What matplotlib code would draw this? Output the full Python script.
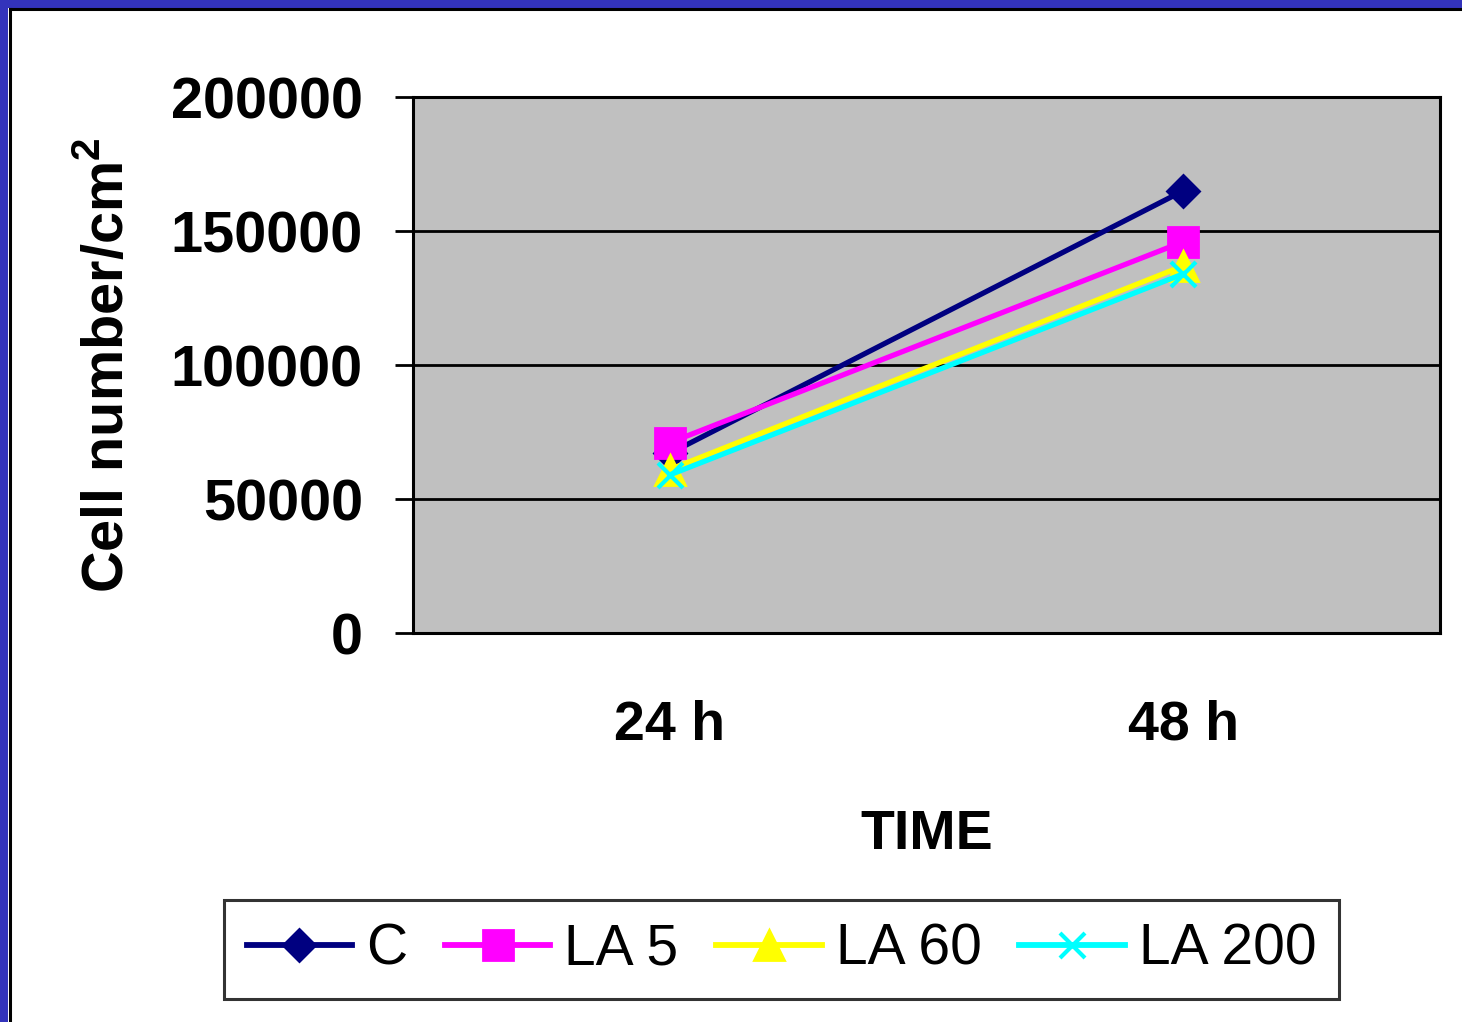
import matplotlib
matplotlib.use('Agg')
import matplotlib.pyplot as plt
from matplotlib.patches import Rectangle
from matplotlib.lines import Line2D

times = ['24 h', '48 h']
series_names = ['C', 'LA 5', 'LA 60', 'LA 200']
c_vals = [67000, 165000]
la5_vals = [71000, 146000]
la60_vals = [61000, 137000]
la200_vals = [59000, 134000]
yticks = [0, 50000, 100000, 150000, 200000]

plt.rcParams['font.family'] = ['Liberation Sans', 'DejaVu Sans']
plt.rcParams['mathtext.fontset'] = 'custom'
plt.rcParams['mathtext.bf'] = 'Liberation Sans:bold'

W, H = 1462, 1022
fig = plt.figure(figsize=(W / 100, H / 100), dpi=100)
ax = fig.add_axes([413 / W, 1 - 633 / H, (1440 - 413) / W, (633 - 97) / H])
ax.set_facecolor('#c0c0c0')

x = list(range(len(times)))
styles = [
    (c_vals, '#000080', 'D', 16, 2),
    (la5_vals, '#ff00ff', 's', 21, 2),
    (la60_vals, '#ffff00', '^', 22, 2),
    (la200_vals, '#00ffff', 'x', 18, 3),
]
handles = []
for (vals, col, mk, ms, mew), name in zip(styles, series_names):
    h, = ax.plot(x, vals, color=col, lw=3.8, marker=mk, markersize=ms,
                 markerfacecolor=col, markeredgecolor=col, markeredgewidth=mew,
                 label=name, zorder=3)
    handles.append(h)

ax.set_xlim(-0.5, 1.5)
ax.set_ylim(0, 200000)
ax.set_yticks(yticks)
ax.set_yticklabels([str(v) for v in yticks], fontsize=41.5, fontweight='bold')
ax.set_xticks(x)
ax.set_xticklabels(times, fontsize=40, fontweight='bold')
ax.tick_params(axis='y', length=13, width=2, pad=23, direction='out')
ax.tick_params(axis='x', length=0, pad=48)
ax.grid(axis='y', color='black', lw=2, zorder=1)
ax.set_axisbelow(True)
for s in ax.spines.values():
    s.set_linewidth(2.2)
    s.set_color('black')

ax.set_xlabel('TIME', fontsize=40, fontweight='bold', labelpad=41)
ax.set_ylabel('Cell number/cm$^\\mathbf{2}$', fontsize=41.5, fontweight='bold', labelpad=25)

leg = fig.legend(handles=handles, loc='center', ncol=4,
                 bbox_to_anchor=((225 + 1338) / 2 / W, 1 - 949.5 / H),
                 fontsize=41, frameon=True, fancybox=False, handlelength=1.85,
                 handletextpad=0.25, columnspacing=0.66, borderpad=0.4,
                 borderaxespad=0)
leg.get_frame().set_edgecolor('black')
leg.get_frame().set_linewidth(2.2)
for ln in leg.get_lines():
    ln.set_linewidth(4.2)

# slide border top and left
blue = '#3333bb'
fig.add_artist(Rectangle((0, 0), 8 / W, 1, transform=fig.transFigure, color=blue, lw=0))
fig.add_artist(Rectangle((0, 1 - 8 / H), 1, 8 / H, transform=fig.transFigure, color=blue, lw=0))
fig.add_artist(Line2D([9.5 / W, 9.5 / W], [0, 1 - 9.5 / H], transform=fig.transFigure, color='black', lw=2.2))
fig.add_artist(Line2D([9.5 / W, 1], [1 - 9.5 / H, 1 - 9.5 / H], transform=fig.transFigure, color='black', lw=2.2))

fig.savefig('out.png', dpi=100)
